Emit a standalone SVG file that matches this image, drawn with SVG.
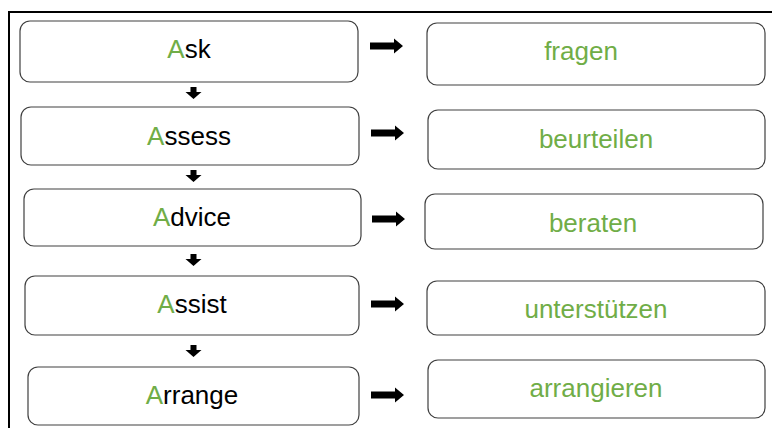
<svg xmlns="http://www.w3.org/2000/svg" width="772" height="428" viewBox="0 0 772 428">
<style>
.box{fill:#fff;stroke:#404040;stroke-width:1.2}
.t{font-family:"Liberation Sans",Arial,sans-serif;font-size:26px;text-anchor:middle;fill:#000}
.g{fill:#70AD47}
.arr{fill:#000}
</style>
<defs>
<path id="ra" d="M0,-3.5 H24 V-7.5 L33,0 L24,7.5 V3.5 H0 Z"/>
<path id="da" d="M-3,0 H3 V5 H8 L0,12 L-8,5 H-3 Z"/>
</defs>
<rect x="9" y="12" width="780" height="430" fill="none" stroke="#000" stroke-width="2"/>
<g id="connectors" class="arr">
<use href="#da" x="193.5" y="87"/>
<use href="#da" x="193.5" y="170"/>
<use href="#da" x="193.5" y="254"/>
<use href="#da" x="193.5" y="345"/>
<use href="#ra" x="370" y="46"/>
<use href="#ra" x="371" y="133"/>
<use href="#ra" x="372" y="219"/>
<use href="#ra" x="371" y="304"/>
<use href="#ra" x="371" y="395"/>
</g>
<g id="ask"><rect class="box" x="20" y="21" width="338" height="61" rx="10"/><text class="t" x="189" y="58"><tspan class="g">A</tspan>sk</text></g>
<g id="assess"><rect class="box" x="21" y="107" width="338" height="58" rx="10"/><text class="t" x="189" y="145"><tspan class="g">A</tspan>ssess</text></g>
<g id="advice"><rect class="box" x="24" y="189" width="337" height="57" rx="10"/><text class="t" x="192" y="226"><tspan class="g">A</tspan>dvice</text></g>
<g id="assist"><rect class="box" x="25" y="276" width="334" height="59" rx="10"/><text class="t" x="192" y="313"><tspan class="g">A</tspan>ssist</text></g>
<g id="arrange"><rect class="box" x="28" y="367" width="331" height="58" rx="10"/><text class="t" x="192" y="404"><tspan class="g">A</tspan>rrange</text></g>
<g id="fragen"><rect class="box" x="427" y="23" width="338" height="62" rx="10"/><text class="t g" x="581" y="60">fragen</text></g>
<g id="beurteilen"><rect class="box" x="428" y="110" width="337" height="59" rx="10"/><text class="t g" x="596" y="148">beurteilen</text></g>
<g id="beraten"><rect class="box" x="425" y="194" width="338" height="55" rx="10"/><text class="t g" x="593" y="232">beraten</text></g>
<g id="unterstuetzen"><rect class="box" x="427" y="281" width="338" height="54" rx="10"/><text class="t g" x="596" y="318">unterstützen</text></g>
<g id="arrangieren"><rect class="box" x="428" y="360" width="337" height="58" rx="10"/><text class="t g" x="596" y="397">arrangieren</text></g>
</svg>
